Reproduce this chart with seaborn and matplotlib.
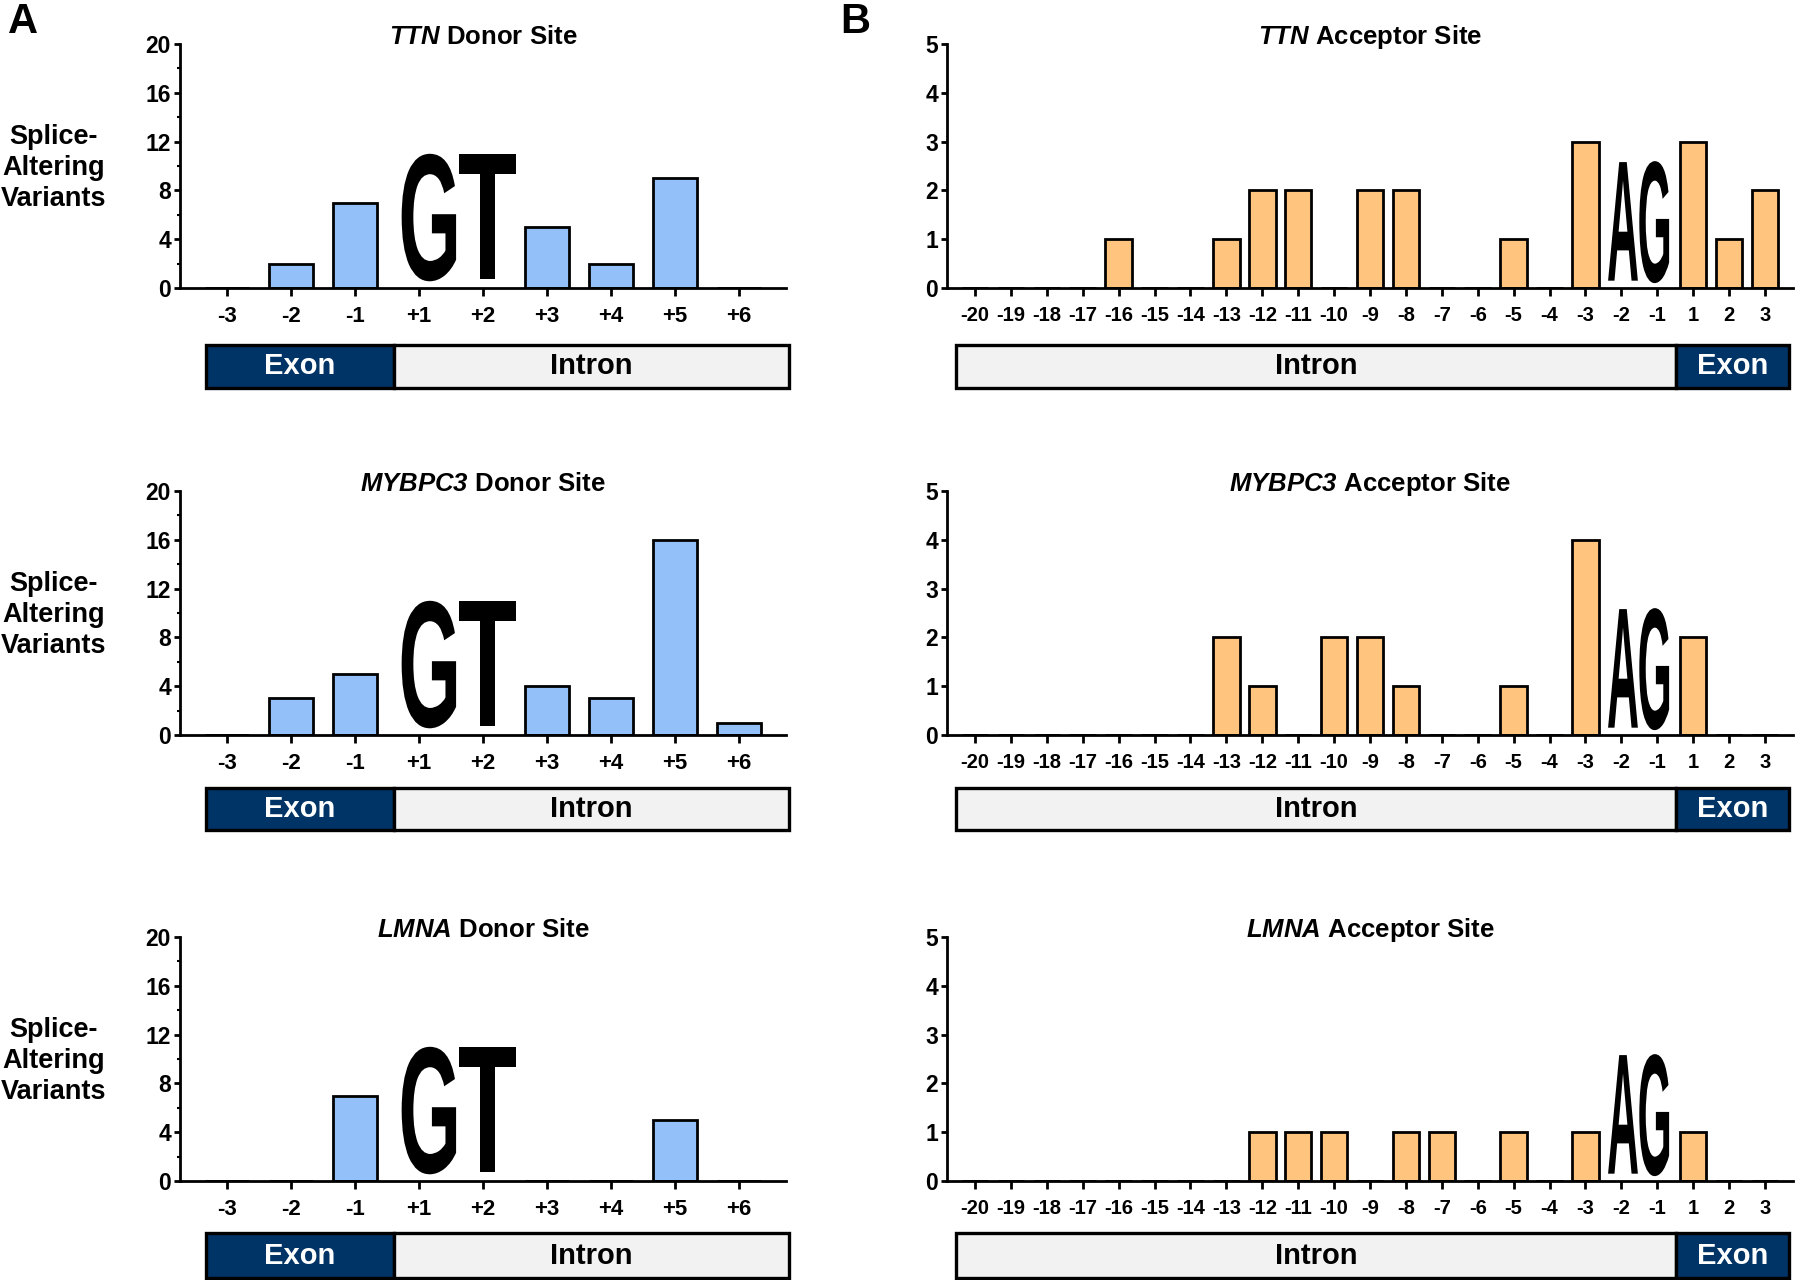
import numpy as np
import pandas as pd
import matplotlib
matplotlib.use('Agg')
import matplotlib.pyplot as plt
import seaborn as sns
from matplotlib import font_manager as fm
from matplotlib.textpath import TextPath
from matplotlib.patches import PathPatch, Rectangle
from matplotlib.transforms import Affine2D
from matplotlib.ticker import AutoMinorLocator

# data
donor_pos = ['-3', '-2', '-1', '+1', '+2', '+3', '+4', '+5', '+6']
ttn_donor = [0, 2, 7, None, None, 5, 2, 9, 0]
mybpc3_donor = [0, 3, 5, None, None, 4, 3, 16, 1]
lmna_donor = [0, 0, 7, None, None, 0, 0, 5, 0]

acc_pos = ['-20', '-19', '-18', '-17', '-16', '-15', '-14', '-13', '-12', '-11', '-10',
           '-9', '-8', '-7', '-6', '-5', '-4', '-3', '-2', '-1', '1', '2', '3']
ttn_acc = [0, 0, 0, 0, 1, 0, 0, 1, 2, 2, 0, 2, 2, 0, 0, 1, 0, 3, None, None, 3, 1, 2]
mybpc3_acc = [0, 0, 0, 0, 0, 0, 0, 2, 1, 0, 2, 2, 1, 0, 0, 1, 0, 4, None, None, 2, 0, 0]
lmna_acc = [0, 0, 0, 0, 0, 0, 0, 0, 1, 1, 1, 0, 1, 1, 0, 1, 0, 1, None, None, 1, 0, 0]

genes = ['TTN', 'MYBPC3', 'LMNA']
donor_data = [ttn_donor, mybpc3_donor, lmna_donor]
acc_data = [ttn_acc, mybpc3_acc, lmna_acc]

BLUE = '#93C0F8'
ORANGE = '#FFC57F'
NAVY = '#003366'
GREY = '#F2F2F2'

sns.set_theme(style='ticks')
names = {f.name for f in fm.fontManager.ttflist}
base = 'Liberation Sans Narrow' if 'Liberation Sans Narrow' in names else 'Liberation Sans'
plt.rcParams['font.family'] = [base, 'DejaVu Sans']
plt.rcParams['font.weight'] = 'bold'
plt.rcParams['mathtext.fontset'] = 'custom'
# gene names (incl. digits) in bold italic
plt.rcParams['mathtext.rm'] = base + ':italic:bold'
plt.rcParams['mathtext.it'] = base + ':italic:bold'
for k in ['text.color', 'axes.labelcolor', 'xtick.color', 'ytick.color', 'axes.edgecolor']:
    plt.rcParams[k] = 'black'

W, H = 1800, 1280
fig = plt.figure(figsize=(18, 12.8), dpi=100)


def px_axes(x0, y0, x1, y1):
    return fig.add_axes([x0 / W, 1 - y1 / H, (x1 - x0) / W, (y1 - y0) / H])


def letter(ax, ch, x0, x1, y0, y1):
    tp = TextPath((0, 0), ch, size=1, prop=fm.FontProperties(family='Liberation Sans', weight='bold'))
    bb = tp.get_extents()
    tr = Affine2D().translate(-bb.x0, -bb.y0).scale((x1 - x0) / bb.width, (y1 - y0) / bb.height).translate(x0, y0)
    ax.add_patch(PathPatch(tr.transform_path(tp), facecolor='black', lw=0, zorder=3))


def region_bar(x0, y0, x1, y1, split, left_lab, right_lab, left_col, right_col):
    rax = px_axes(x0, y0, x1, y1)
    rax.set_xlim(0, 1)
    rax.set_ylim(0, 1)
    rax.axis('off')
    s = (split - x0) / (x1 - x0)
    rax.add_patch(Rectangle((0, 0), s, 1, facecolor=left_col, edgecolor='black', lw=2.4, clip_on=False))
    rax.add_patch(Rectangle((s, 0), 1 - s, 1, facecolor=right_col, edgecolor='black', lw=2.4, clip_on=False))
    for lab, xc, col in [(left_lab, s / 2, left_col), (right_lab, (1 + s) / 2, right_col)]:
        tc = 'white' if col == NAVY else 'black'
        rax.text(xc, 0.5, lab, ha='center', va='center', fontsize=21, fontweight='bold', color=tc)


def style_axes(ax, ymax, yticks, xsize):
    ax.set_ylim(0, ymax)
    ax.set_yticks(yticks)
    sns.despine(ax=ax)
    for sp in ['left', 'bottom']:
        ax.spines[sp].set_linewidth(2)
    ax.tick_params(axis='x', length=6, width=2, pad=7, labelsize=xsize)
    ax.tick_params(axis='y', length=4.5, width=2, pad=2, labelsize=16.5)
    ax.set_xlabel('')
    ax.set_ylabel('')
    for t in ax.get_xticklabels() + ax.get_yticklabels():
        t.set_fontweight('bold')


rows = [(44, 288), (491, 735), (937, 1181)]
reg_rows = [(345, 388), (788, 830), (1233, 1278)]

for i, g in enumerate(genes):
    y0, y1 = rows[i]
    r0, r1 = reg_rows[i]

    # donor panel
    ax = px_axes(180, y0, 786, y1)
    df = pd.DataFrame({'pos': donor_pos, 'count': donor_data[i]}).dropna()
    sns.barplot(data=df, x='pos', y='count', order=donor_pos, color=BLUE, saturation=1,
                edgecolor='black', linewidth=2, width=0.68, errorbar=None, ax=ax)
    ax.set_xlim(-0.73, 8.73)
    style_axes(ax, 20, [0, 4, 8, 12, 16, 20], 16)
    ax.yaxis.set_minor_locator(AutoMinorLocator(2))
    ax.tick_params(axis='y', which='minor', length=2.5, width=1.5)
    ax.set_title(r'$\mathrm{' + g + '}$ Donor Site', fontsize=18.5, fontweight='bold', y=1.0, pad=0)
    letter(ax, 'G', 2.73, 3.58, 0.55, 11.0)
    letter(ax, 'T', 3.62, 4.52, 0.75, 11.0)
    fig.text(54 / W, 1 - (y0 + y1 + 4) / 2 / H, 'Splice-\nAltering\nVariants', ha='center', va='center',
             fontsize=19.5, fontweight='bold', linespacing=1.25)
    region_bar(206, r0, 789, r1, 394, 'Exon', 'Intron', NAVY, GREY)

    # acceptor panel
    ax = px_axes(947, y0, 1793, y1)
    df = pd.DataFrame({'pos': acc_pos, 'count': acc_data[i]}).dropna()
    sns.barplot(data=df, x='pos', y='count', order=acc_pos, color=ORANGE, saturation=1,
                edgecolor='black', linewidth=2, width=0.74, errorbar=None, ax=ax)
    ax.set_xlim(-0.78, 22.78)
    style_axes(ax, 5, [0, 1, 2, 3, 4, 5], 14.5)
    ax.set_title(r'$\mathrm{' + g + '}$ Acceptor Site', fontsize=18.5, fontweight='bold', y=1.0, pad=0)
    letter(ax, 'A', 17.63, 18.46, 0.15, 2.58)
    letter(ax, 'G', 18.5, 19.33, 0.1, 2.6)
    region_bar(956, r0, 1789, r1, 1676, 'Intron', 'Exon', GREY, NAVY)

fig.text(8 / W, 1 - 2 / H, 'A', ha='left', va='top', fontsize=30, fontweight='bold')
fig.text(840 / W, 1 - 2 / H, 'B', ha='left', va='top', fontsize=30, fontweight='bold')

fig.savefig('out.png', dpi=100)
